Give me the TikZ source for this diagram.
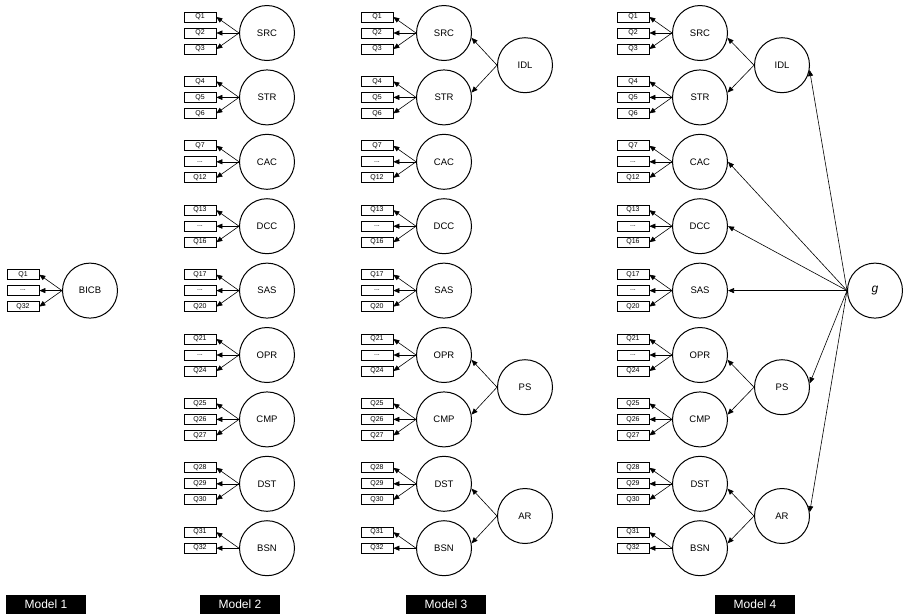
\documentclass[tikz,border=0pt]{standalone}
\usepackage{fontspec}
\setmainfont{Liberation Sans}
\usetikzlibrary{arrows.meta}
\tikzset{
  lat/.style={circle, draw, line width=1pt, minimum size=55pt, inner sep=0pt, font=\fontsize{9.5}{9.5}\selectfont},
  obs/.style={rectangle, draw, line width=0.7pt, minimum width=32pt, minimum height=10pt, inner sep=0pt, font=\fontsize{7}{7}\selectfont},
  arr/.style={-{Triangle[length=6pt,width=5pt]}, line width=0.6pt},
  lab/.style={fill=black, text=white, minimum width=80pt, minimum height=19pt, inner sep=0pt, font=\fontsize{12}{12}\selectfont}
}
\newcommand{\three}[7]{%
  \node[lat] (#1) at (#2,#3) {#4};
  \node[obs] (#1a) at ({#2-67},{#3-16}) {#5};
  \node[obs] (#1b) at ({#2-67},{#3}) {#6};
  \node[obs] (#1c) at ({#2-67},{#3+16}) {#7};
  \draw[arr] (#1.west) -- (#1a.east);
  \draw[arr] (#1.west) -- (#1b.east);
  \draw[arr] (#1.west) -- (#1c.east);
}
\newcommand{\two}[6]{%
  \node[lat] (#1) at (#2,#3) {#4};
  \node[obs] (#1a) at ({#2-67},{#3-16}) {#5};
  \node[obs] (#1b) at ({#2-67},{#3}) {#6};
  \draw[arr] (#1.west) -- (#1a.east);
  \draw[arr] (#1.west) -- (#1b.east);
}
\newcommand{\firstorder}[2]{%
  \three{#1SRC}{#2}{33}{SRC}{Q1}{Q2}{Q3}
  \three{#1STR}{#2}{97.4}{STR}{Q4}{Q5}{Q6}
  \three{#1CAC}{#2}{161.8}{CAC}{Q7}{...}{Q12}
  \three{#1DCC}{#2}{226.2}{DCC}{Q13}{...}{Q16}
  \three{#1SAS}{#2}{290.6}{SAS}{Q17}{...}{Q20}
  \three{#1OPR}{#2}{355}{OPR}{Q21}{...}{Q24}
  \three{#1CMP}{#2}{419.4}{CMP}{Q25}{Q26}{Q27}
  \three{#1DST}{#2}{483.8}{DST}{Q28}{Q29}{Q30}
  \two{#1BSN}{#2}{548.2}{BSN}{Q31}{Q32}
}
\newcommand{\secondorder}[2]{%
  \node[lat] (#1IDL) at (#2,65.2) {IDL};
  \node[lat] (#1PS) at (#2,387.2) {PS};
  \node[lat] (#1AR) at (#2,516) {AR};
  \draw[arr] (#1IDL.west) -- (#1SRC.-10);
  \draw[arr] (#1IDL.west) -- (#1STR.10);
  \draw[arr] (#1PS.west) -- (#1OPR.-10);
  \draw[arr] (#1PS.west) -- (#1CMP.10);
  \draw[arr] (#1AR.west) -- (#1DST.-10);
  \draw[arr] (#1AR.west) -- (#1BSN.10);
}
\begin{document}
\begin{tikzpicture}[x=1pt, y=-1pt]
  \fill[white] (0,0) rectangle (903,614);
  \useasboundingbox (0,0) rectangle (903,614);
  % Model 1
  \three{mA}{90}{290.6}{BICB}{Q1}{...}{Q32}
  % Model 2
  \firstorder{mB}{267}
  % Model 3
  \firstorder{mC}{444}
  \secondorder{mC}{525}
  % Model 4
  \firstorder{mD}{700}
  \secondorder{mD}{782}
  \node[lat, font=\fontsize{12}{12}\selectfont\itshape] (g) at (875,290.6) {g};
  \draw[arr] (g.west) -- (mDIDL.-10);
  \draw[arr] (g.west) -- (mDCAC.east);
  \draw[arr] (g.west) -- (mDDCC.east);
  \draw[arr] (g.west) -- (mDSAS.east);
  \draw[arr] (g.west) -- (mDPS.8);
  \draw[arr] (g.west) -- (mDAR.8);
  % labels
  \node[lab] (l1) at (46,604.5) {Model 1};
  \node[lab] (l2) at (240,604.5) {Model 2};
  \node[lab] (l3) at (446,604.5) {Model 3};
  \node[lab] (l4) at (755,604.5) {Model 4};
\end{tikzpicture}
\end{document}
